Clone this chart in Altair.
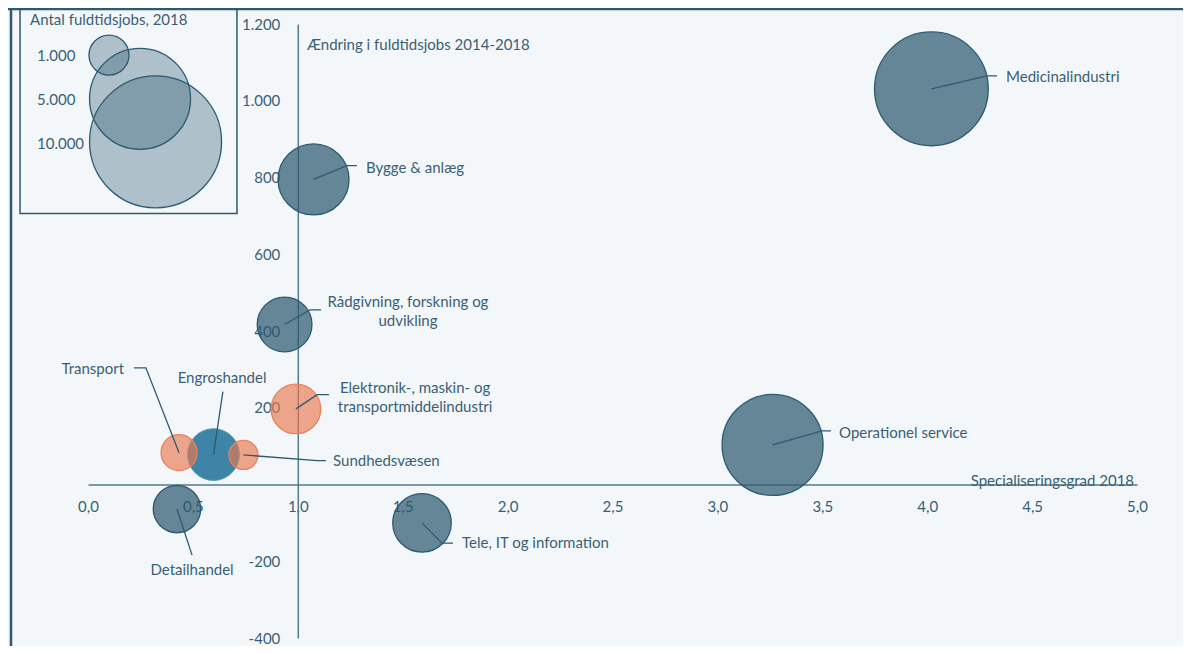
import altair as alt
import pandas as pd

# ---------------- data ----------------
sectors = ["Medicinalindustri", "Bygge & anlæg", "Rådgivning, forskning og udvikling",
           "Elektronik-, maskin- og transportmiddelindustri", "Transport", "Engroshandel",
           "Sundhedsvæsen", "Detailhandel", "Tele, IT og information", "Operationel service"]
spec = [4.02, 1.075, 0.937, 0.991, 0.434, 0.598, 0.741, 0.424, 1.592, 3.263]      # Specialiseringsgrad 2018
change = [1031, 795, 417, 197, 83, 78, 77, -64, -100, 103]                           # Ændring i fuldtidsjobs 2014-2018
jobs = [6900, 2600, 1650, 1400, 810, 1500, 525, 1300, 1850, 5000]                    # Antal fuldtidsjobs 2018
group = ["dark", "dark", "dark", "orange", "orange", "blue", "orange", "dark", "dark", "dark"]

label_text = ["Medicinalindustri", "Bygge & anlæg", "Rådgivning, forskning og\nudvikling",
              "Elektronik-, maskin- og\ntransportmiddelindustri", "Transport", "Engroshandel",
              "Sundhedsvæsen", "Detailhandel", "Tele, IT og information", "Operationel service"]
label_side = ["left", "left", "center", "center", "right", "center", "left", "center", "left", "left"]
label_x = [4.376, 1.325, 1.525, 1.559, 0.172, 0.639, 1.168, 0.496, 1.783, 3.580]
label_y = [1062, 826, 475, 252, 301, 278, 60, -223, -153, 135]
elbow_x = [4.285, 1.234, 1.058, 1.092, 0.276, 0.643, 1.092, 0.496, 1.687, 3.499]
elbow_y = [1065, 831, 455, 234, 304, 242, 62, -184, -153, 140]
end_x = [4.333, 1.282, 1.111, 1.149, 0.219, 0.643, 1.134, 0.496, 1.740, 3.541]
end_y = [1065, 831, 455, 234, 304, 242, 62, -184, -153, 140]

legend_title = "Antal fuldtidsjobs, 2018"
legend_values = [1000, 5000, 10000]
legend_labels = ["1.000", "5.000", "10.000"]
legend_x = [0.100, 0.248, 0.322]
legend_y = [1119, 1005, 893]
legend_label_y = [1117, 1003, 888]

x_ticks = [0.0, 0.5, 1.0, 1.5, 2.0, 2.5, 3.0, 3.5, 4.0, 4.5, 5.0]
y_ticks = [-400, -200, 200, 400, 600, 800, 1000, 1200]
x_title = "Specialiseringsgrad 2018"
y_title = "Ændring i fuldtidsjobs 2014-2018"

# ---------------- layout / style ----------------
W, H = 1049, 614
PAD = {"left": 80, "top": 16, "right": 46, "bottom": 8}
XDOM, YDOM = [0, 5], [-400, 1200]
FONT = "Lato"
FS = 15
TXT = "#3a5f74"
DARK = "#2d5a70"
AXC = "#557a8c"
BG = "#f3f7fa"

xs = alt.Scale(domain=XDOM, nice=False, zero=False)
ys = alt.Scale(domain=YDOM, nice=False, zero=False)
size_scale = alt.Scale(type="linear", domain=[0, 1000, 5000, 10000], range=[0, 1600, 10201, 17424])

x_off = -H * (0 - YDOM[0]) / (YDOM[1] - YDOM[0])
y_off = -W * (1 - XDOM[0]) / (XDOM[1] - XDOM[0])

xaxis = alt.Axis(values=x_ticks, labelExpr="replace(format(datum.value, '.1f'), '.', ',')",
                 offset=x_off, ticks=False, grid=False, domainColor=AXC, domainWidth=1.5,
                 labelPadding=15, labelFontSize=FS, labelFont=FONT, labelColor=TXT,
                 labelFlush=False, labelOverlap=False, title=None)
yaxis = alt.Axis(values=y_ticks,
                 labelExpr="(datum.value < 0 ? '-' : '') + replace(format(abs(datum.value), ',d'), ',', '.')",
                 offset=y_off, ticks=False, grid=False, domainColor=AXC, domainWidth=1.5,
                 labelPadding=18, labelFontSize=FS, labelFont=FONT, labelColor=TXT,
                 labelFlush=False, labelOverlap=False, title=None)


def X(f):
    return alt.X(f, type="quantitative", scale=xs, axis=xaxis)


def Y(f):
    return alt.Y(f, type="quantitative", scale=ys, axis=yaxis)


bub = pd.DataFrame({"sector": sectors, "spec": spec, "change": change, "jobs": jobs, "group": group})
labels = pd.DataFrame({"text": label_text, "side": label_side, "lx": label_x, "ly": label_y})

rows = []
for i, s in enumerate(sectors):
    rows.append({"sector": s, "step": 0, "x": spec[i], "y": change[i]})
    rows.append({"sector": s, "step": 1, "x": elbow_x[i], "y": elbow_y[i]})
    rows.append({"sector": s, "step": 2, "x": end_x[i], "y": end_y[i]})
leaders = pd.DataFrame(rows)

leg = pd.DataFrame({"v": legend_values, "lab": legend_labels, "x": legend_x, "y": legend_y,
                    "ly": legend_label_y, "lx": [-0.243] * 3})
leg_title = pd.DataFrame({"t": [legend_title], "x": [-0.276], "y": [1210]})
leg_box = pd.DataFrame({"x0": [-0.324], "x1": [0.710], "y0": [706], "y1": [1245]})
titles = pd.DataFrame({"t": [y_title, x_title], "x": [1.044, 4.986], "y": [1145, 8],
                       "side": ["left", "right"]})

one = pd.DataFrame({"a": [0]})

frame_left = alt.Chart(one).mark_rule(color=DARK, strokeWidth=2.5).encode(
    x=alt.value(-PAD["left"] + 3), y=alt.value(-PAD["top"]), y2=alt.value(H + PAD["bottom"]))
frame_top = alt.Chart(one).mark_rule(color=DARK, strokeWidth=2.5).encode(
    x=alt.value(-PAD["left"]), x2=alt.value(W + PAD["right"]), y=alt.value(-PAD["top"] + 1))

box = alt.Chart(leg_box).mark_rect(fillOpacity=0, stroke=DARK, strokeWidth=1.5).encode(
    x=X("x0"), x2="x1", y=Y("y0"), y2="y1")

leg_circles = alt.Chart(leg).mark_circle(fill=DARK, fillOpacity=0.35, stroke=DARK,
                                         strokeWidth=1.3, opacity=1).encode(
    x=X("x"), y=Y("y"), size=alt.Size("v:Q", scale=size_scale, legend=None))
leg_text = alt.Chart(leg).mark_text(align="left", baseline="middle", font=FONT, fontSize=FS,
                                    color=TXT).encode(x=X("lx"), y=Y("ly"), text="lab:N")
leg_t = alt.Chart(leg_title).mark_text(align="left", baseline="middle", font=FONT, fontSize=FS,
                                       color=TXT).encode(x=X("x"), y=Y("y"), text="t:N")


def bubbles(g, **kw):
    return alt.Chart(bub).transform_filter(alt.datum.group == g).mark_circle(opacity=1, **kw).encode(
        x=X("spec"), y=Y("change"), size=alt.Size("jobs:Q", scale=size_scale, legend=None))


b_dark = bubbles("dark", fill=DARK, fillOpacity=0.72, stroke=DARK, strokeWidth=1.3)
b_blue = bubbles("blue", fill="#3d84a6", fillOpacity=1, stroke="#5597b6", strokeWidth=1)
b_orange = bubbles("orange", fill="#e8784f", fillOpacity=0.65, stroke="#e8825e", strokeWidth=1.3)

lead = alt.Chart(leaders).mark_line(color=DARK, strokeWidth=1.3).encode(
    x=X("x"), y=Y("y"), detail="sector:N", order="step:Q")


def label_layer(side):
    return alt.Chart(labels).transform_filter(alt.datum.side == side).mark_text(
        align=side, baseline="middle", font=FONT, fontSize=FS, color=TXT,
        lineBreak="\n", lineHeight=19).encode(x=X("lx"), y=Y("ly"), text="text:N")


title_layers = [
    alt.Chart(titles).transform_filter(alt.datum.side == s).mark_text(
        align=s, baseline="middle", font=FONT, fontSize=FS, color=TXT).encode(
        x=X("x"), y=Y("y"), text="t:N")
    for s in ["left", "right"]
]

chart = alt.layer(
    frame_left, frame_top, box, leg_circles, leg_text, leg_t,
    b_dark, b_blue, b_orange, lead,
    label_layer("left"), label_layer("right"), label_layer("center"),
    *title_layers,
).properties(
    width=W, height=H,
    autosize=alt.AutoSizeParams(type="none"),
    padding=PAD,
    background=BG,
).configure_view(stroke=None, clip=False)

chart.save("out.html", embed_options={"renderer": "svg", "actions": False})
